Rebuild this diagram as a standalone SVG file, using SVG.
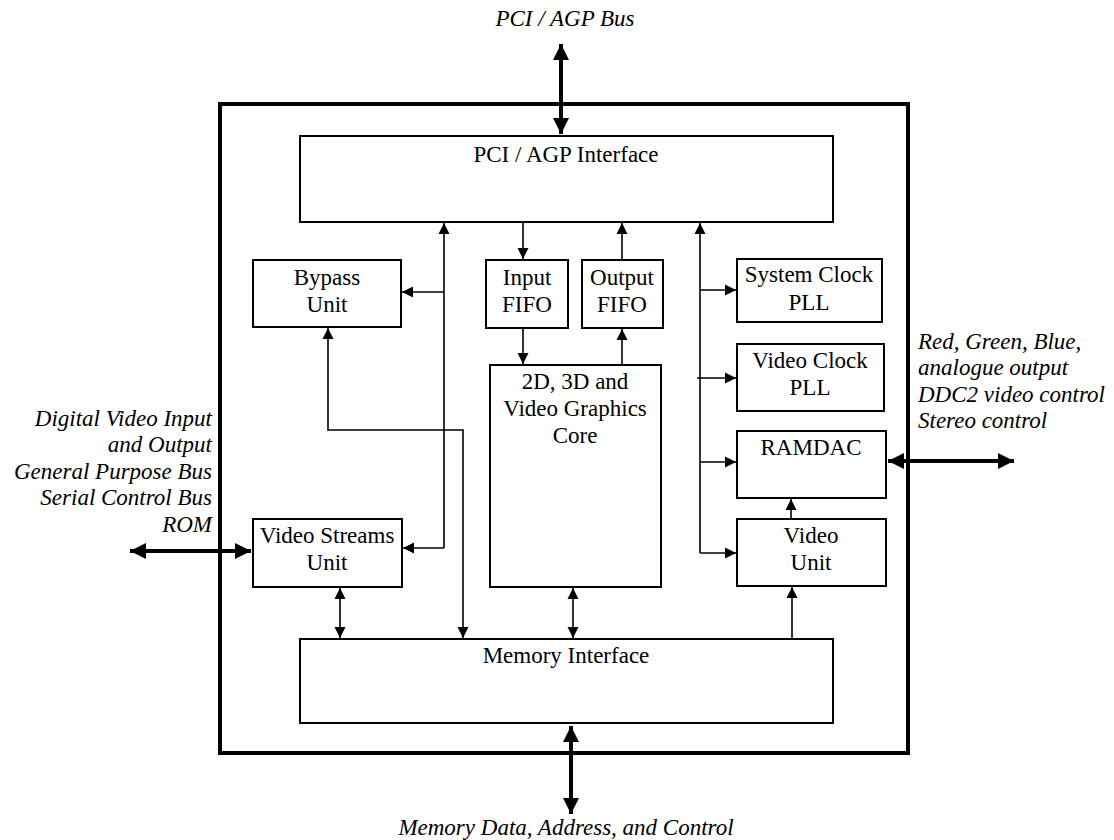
<svg xmlns="http://www.w3.org/2000/svg" width="1114" height="840" viewBox="0 0 1114 840">
<style>
.box{fill:#fff;stroke:#000;stroke-width:2}
.frame{fill:none;stroke:#000;stroke-width:4}
.t{font-family:"Liberation Serif","Times New Roman",serif;font-size:23px;fill:#000;text-anchor:middle}
.i{font-family:"Liberation Serif","Times New Roman",serif;font-size:23px;font-style:italic;fill:#000}
.c{fill:none;stroke:#000;stroke-width:1.6}
.bus{fill:none;stroke:#000;stroke-width:4}
</style>
<defs>
<marker id="a" markerUnits="userSpaceOnUse" markerWidth="12" markerHeight="12" refX="11" refY="6" orient="auto-start-reverse"><path d="M0,0.5 L11,6 L0,11.5 z" fill="#000"/></marker>
<marker id="b" markerUnits="userSpaceOnUse" markerWidth="18" markerHeight="18" refX="16" refY="9" orient="auto-start-reverse"><path d="M0,1 L16,9 L0,17 z" fill="#000"/></marker>
</defs>
<rect class="frame" x="220" y="104" width="688" height="649"/>
<g id="connectors">
<path class="bus" d="M561,44 V134" marker-start="url(#b)" marker-end="url(#b)"/>
<path class="bus" d="M571,726 V814" marker-start="url(#b)" marker-end="url(#b)"/>
<path class="bus" d="M130,551 H251" marker-start="url(#b)" marker-end="url(#b)"/>
<path class="bus" d="M888,461 H1014" marker-start="url(#b)" marker-end="url(#b)"/>
<path class="c" d="M444,548 V223" marker-end="url(#a)"/>
<path class="c" d="M444,292 H402" marker-end="url(#a)"/>
<path class="c" d="M444,548 H403" marker-end="url(#a)"/>
<path class="c" d="M463,638 V430 H328 V328" marker-start="url(#a)" marker-end="url(#a)"/>
<path class="c" d="M340,588 V638" marker-start="url(#a)" marker-end="url(#a)"/>
<path class="c" d="M573,588 V638" marker-start="url(#a)" marker-end="url(#a)"/>
<path class="c" d="M523,223 V259" marker-end="url(#a)"/>
<path class="c" d="M523,329 V364" marker-end="url(#a)"/>
<path class="c" d="M622,364 V329" marker-end="url(#a)"/>
<path class="c" d="M622,259 V223" marker-end="url(#a)"/>
<path class="c" d="M700,553 V223" marker-end="url(#a)"/>
<path class="c" d="M700,290 H736" marker-end="url(#a)"/>
<path class="c" d="M697,378 H736" marker-end="url(#a)"/>
<path class="c" d="M700,462 H736" marker-end="url(#a)"/>
<path class="c" d="M700,553 H736" marker-end="url(#a)"/>
<path class="c" d="M791,518 V499" marker-end="url(#a)"/>
<path class="c" d="M792,638 V587" marker-end="url(#a)"/>
</g>
<g id="pci"><rect class="box" x="300" y="136" width="533" height="86"/><text class="t" x="566" y="162">PCI / AGP Interface</text></g>
<g id="bypass"><rect class="box" x="253" y="260" width="148" height="67"/><text class="t" x="327" y="285">Bypass</text><text class="t" x="327" y="312">Unit</text></g>
<g id="inputfifo"><rect class="box" x="486" y="260" width="82" height="68"/><text class="t" x="527" y="285">Input</text><text class="t" x="527" y="312">FIFO</text></g>
<g id="outputfifo"><rect class="box" x="582" y="260" width="81" height="68"/><text class="t" x="622" y="285">Output</text><text class="t" x="622" y="312">FIFO</text></g>
<g id="sysclk"><rect class="box" x="737" y="259" width="145" height="63"/><text class="t" x="809" y="282">System Clock</text><text class="t" x="809" y="310">PLL</text></g>
<g id="vidclk"><rect class="box" x="737" y="344" width="147" height="67"/><text class="t" x="810" y="368">Video Clock</text><text class="t" x="810" y="395">PLL</text></g>
<g id="core"><rect class="box" x="490" y="365" width="171" height="222"/><text class="t" x="575" y="389">2D, 3D and</text><text class="t" x="575" y="416">Video Graphics</text><text class="t" x="575" y="443">Core</text></g>
<g id="ramdac"><rect class="box" x="737" y="431" width="149" height="67"/><text class="t" x="811" y="455">RAMDAC</text></g>
<g id="vsu"><rect class="box" x="253" y="519" width="149" height="68"/><text class="t" x="327" y="543">Video Streams</text><text class="t" x="327" y="570">Unit</text></g>
<g id="videounit"><rect class="box" x="737" y="519" width="149" height="67"/><text class="t" x="811" y="543">Video</text><text class="t" x="811" y="570">Unit</text></g>
<g id="memory"><rect class="box" x="300" y="639" width="533" height="84"/><text class="t" x="566" y="663">Memory Interface</text></g>
<g id="labels">
<text class="i" x="565" y="26" text-anchor="middle">PCI / AGP Bus</text>
<text class="i" x="566" y="835" text-anchor="middle">Memory Data, Address, and Control</text>
<g text-anchor="end"><text class="i" x="212" y="426">Digital Video Input</text><text class="i" x="212" y="452">and Output</text><text class="i" x="212" y="479">General Purpose Bus</text><text class="i" x="212" y="505">Serial Control Bus</text><text class="i" x="212" y="532">ROM</text></g>
<text class="i" x="918" y="349">Red, Green, Blue,</text><text class="i" x="918" y="375">analogue output</text><text class="i" x="918" y="402">DDC2 video control</text><text class="i" x="918" y="428">Stereo control</text>
</g>
</svg>
